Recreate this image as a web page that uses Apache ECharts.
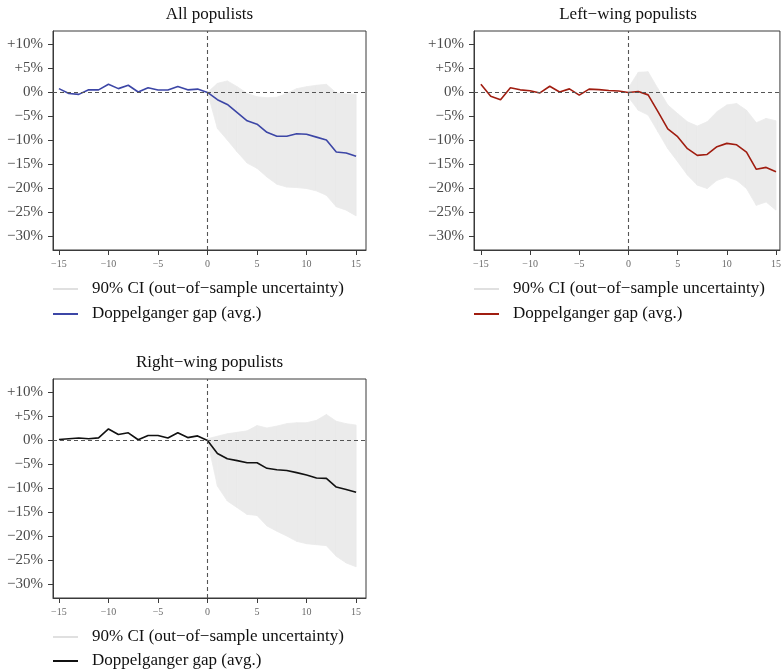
<!DOCTYPE html>
<html>
<head>
<meta charset="utf-8">
<script src="https://cdn.jsdelivr.net/npm/echarts@6/dist/echarts.min.js"></script>
<style>
html,body{margin:0;padding:0;background:#fff;}
#chart{width:784px;height:671px;}
</style>
</head>
<body>
<div id="chart"></div>
<script>
// ---- data ----
const periods = [-15,-14,-13,-12,-11,-10,-9,-8,-7,-6,-5,-4,-3,-2,-1,0,1,2,3,4,5,6,7,8,9,10,11,12,13,14,15];
const ciPeriods = [0,1,2,3,4,5,6,7,8,9,10,11,12,13,14,15];

const allGap  = [0.8,-0.2,-0.4,0.55,0.55,1.7,0.8,1.5,0.1,1.0,0.5,0.5,1.25,0.55,0.7,0,-1.5,-2.5,-4.2,-5.9,-6.6,-8.3,-9.1,-9.1,-8.6,-8.7,-9.3,-9.9,-12.4,-12.6,-13.3];
const allHigh = [0,1.9,2.4,1.2,-0.2,-0.9,-1.1,-1.0,-0.2,0.8,1.2,1.5,1.7,-0.1,-0.3,-0.4];
const allLow  = [0,-7.5,-9.9,-12.4,-14.7,-15.8,-17.6,-19.1,-19.7,-19.8,-20.0,-20.5,-21.4,-23.8,-24.5,-25.7];

const leftGap  = [1.7,-0.8,-1.5,1.0,0.55,0.35,-0.1,1.3,0.1,0.75,-0.55,0.7,0.6,0.4,0.3,0,0.2,-0.5,-4.0,-7.6,-9.2,-11.7,-13.1,-12.9,-11.3,-10.6,-10.9,-12.4,-16.0,-15.6,-16.5];
const leftHigh = [1.0,4.2,4.3,0.8,-2.6,-4.4,-6.1,-7.0,-6.1,-4.0,-2.6,-2.3,-3.7,-6.3,-5.4,-5.9];
const leftLow  = [-1.0,-3.7,-4.7,-8.2,-11.7,-14.4,-17.2,-19.3,-20.0,-18.3,-17.6,-18.3,-20.0,-23.5,-22.8,-24.5];

const rightGap  = [0.2,0.35,0.5,0.35,0.55,2.4,1.25,1.6,0.15,1.05,1.05,0.5,1.6,0.6,0.95,0,-2.7,-3.8,-4.2,-4.65,-4.65,-5.8,-6.1,-6.25,-6.7,-7.2,-7.8,-7.9,-9.7,-10.2,-10.8];
const rightHigh = [0.35,0.9,1.4,1.7,2.0,3.1,2.6,3.0,3.5,3.7,3.7,4.2,5.4,4.0,3.5,3.2];
const rightLow  = [-0.1,-9.5,-12.6,-14.0,-15.4,-15.6,-17.8,-18.9,-19.9,-21.0,-21.5,-21.7,-21.9,-24.1,-25.5,-26.3];

const titles = ['All populists', 'Left\u2212wing populists', 'Right\u2212wing populists'];
const ciLabel = '90% CI (out\u2212of\u2212sample uncertainty)';
const gapLabel = 'Doppelganger gap (avg.)';
const yTicks = [10,5,0,-5,-10,-15,-20,-25,-30];
const xTicks = [-15,-10,-5,0,5,10,15];

// ---- layout / style ----
const SERIF = 'Liberation Serif';
const BAND = '#ebebeb';
const panels = [
  {gap: allGap, high: allHigh, low: allLow, color: '#3c46a6', grid: {left: 53, top: 31, width: 313, height: 219}, xmin: -15.6, xmax: 16.0, legendTop: 280, legendGap: 7, titleX: 209.5, titleY: 6},
  {gap: leftGap, high: leftHigh, low: leftLow, color: '#a01d10', grid: {left: 474, top: 31, width: 308, height: 219}, xmin: -15.7, xmax: 15.4, legendTop: 280, legendGap: 7, titleX: 628, titleY: 6},
  {gap: rightGap, high: rightHigh, low: rightLow, color: '#111111', grid: {left: 53, top: 379, width: 313, height: 219}, xmin: -15.6, xmax: 16.0, legendTop: 628, legendGap: 6, titleX: 209.5, titleY: 354}
];

function fmtY(v){ if (v > 0) return '+' + v + '%'; if (v < 0) return '\u2212' + Math.abs(v) + '%'; return '0%'; }
function fmtX(v){ return v < 0 ? '\u2212' + Math.abs(v) : String(v); }

function renderBand(params, api) {
  const i = params.dataIndexInside;
  if (i >= params.dataInsideLength - 1) return null;
  const a = api.coord([api.value(0, i), api.value(1, i)]);
  const b = api.coord([api.value(0, i + 1), api.value(1, i + 1)]);
  const c = api.coord([api.value(0, i + 1), api.value(2, i + 1)]);
  const d = api.coord([api.value(0, i), api.value(2, i)]);
  return {type: 'polygon', shape: {points: [a, b, c, d]}, style: {fill: BAND, stroke: BAND, lineWidth: 0.8}};
}

const grid = [], xAxis = [], yAxis = [], series = [], legend = [], title = [];
const labelMap = {};

panels.forEach((p, i) => {
  grid.push(Object.assign({show: true, borderColor: '#3a3a3a', borderWidth: 1, backgroundColor: 'transparent'}, p.grid));
  xAxis.push({
    type: 'value', gridIndex: i, min: p.xmin, max: p.xmax,
    axisLine: {show: true, onZero: false, lineStyle: {color: '#3a3a3a'}},
    axisTick: {show: true, length: 5, customValues: xTicks, lineStyle: {color: '#3a3a3a'}},
    axisLabel: {customValues: xTicks, formatter: fmtX, fontFamily: SERIF, fontSize: 10, color: '#6a6a6a', margin: 9},
    splitLine: {show: false}
  });
  yAxis.push({
    type: 'value', gridIndex: i, min: -32.8, max: 12.8,
    axisLine: {show: true, onZero: false, lineStyle: {color: '#3a3a3a'}},
    axisTick: {show: true, length: 5, customValues: yTicks, lineStyle: {color: '#3a3a3a'}},
    axisLabel: {customValues: yTicks, formatter: fmtY, fontFamily: SERIF, fontSize: 15, color: '#4a4a4a', margin: 10},
    splitLine: {show: false}
  });
  const ciName = 'ci' + i, gapName = 'gap' + i;
  labelMap[ciName] = ciLabel; labelMap[gapName] = gapLabel;
  series.push({
    name: ciName, type: 'custom', xAxisIndex: i, yAxisIndex: i,
    data: ciPeriods.map((x, k) => [x, p.low[k], p.high[k]]),
    encode: {x: 0, y: [1, 2]},
    renderItem: renderBand, itemStyle: {color: '#e0e0e0'}, silent: true, z: 1
  });
  series.push({
    name: gapName, type: 'line', xAxisIndex: i, yAxisIndex: i,
    data: periods.map((x, k) => [x, p.gap[k]]),
    symbol: 'none', lineStyle: {color: p.color, width: 1.6}, itemStyle: {color: p.color}, z: 3,
    markLine: {
      silent: true, symbol: ['none', 'none'], label: {show: false},
      lineStyle: {type: [4, 3], color: '#555', width: 1.1},
      data: [{yAxis: 0}, {xAxis: 0}]
    }
  });
  legend.push({
    orient: 'vertical', left: p.grid.left, top: p.legendTop, padding: 0, itemGap: p.legendGap,
    itemWidth: 25, itemHeight: 2, selectedMode: false,
    formatter: n => labelMap[n],
    textStyle: {fontFamily: SERIF, fontSize: 17, color: '#111', lineHeight: 18, padding: [0, 0, 0, 9]},
    data: [
      {name: ciName, icon: 'rect', itemStyle: {color: '#e0e0e0'}},
      {name: gapName, icon: 'rect', itemStyle: {color: p.color}}
    ]
  });
  title.push({
    text: titles[i], left: p.titleX, top: p.titleY, textAlign: 'center', padding: 0,
    textStyle: {fontFamily: SERIF, fontSize: 17, fontWeight: 'normal', color: '#111'}
  });
});

const chart = echarts.init(document.getElementById('chart'), null, {renderer: 'canvas'});
chart.setOption({animation: false, backgroundColor: '#fff', title, grid, xAxis, yAxis, legend, series});
</script>
</body>
</html>
